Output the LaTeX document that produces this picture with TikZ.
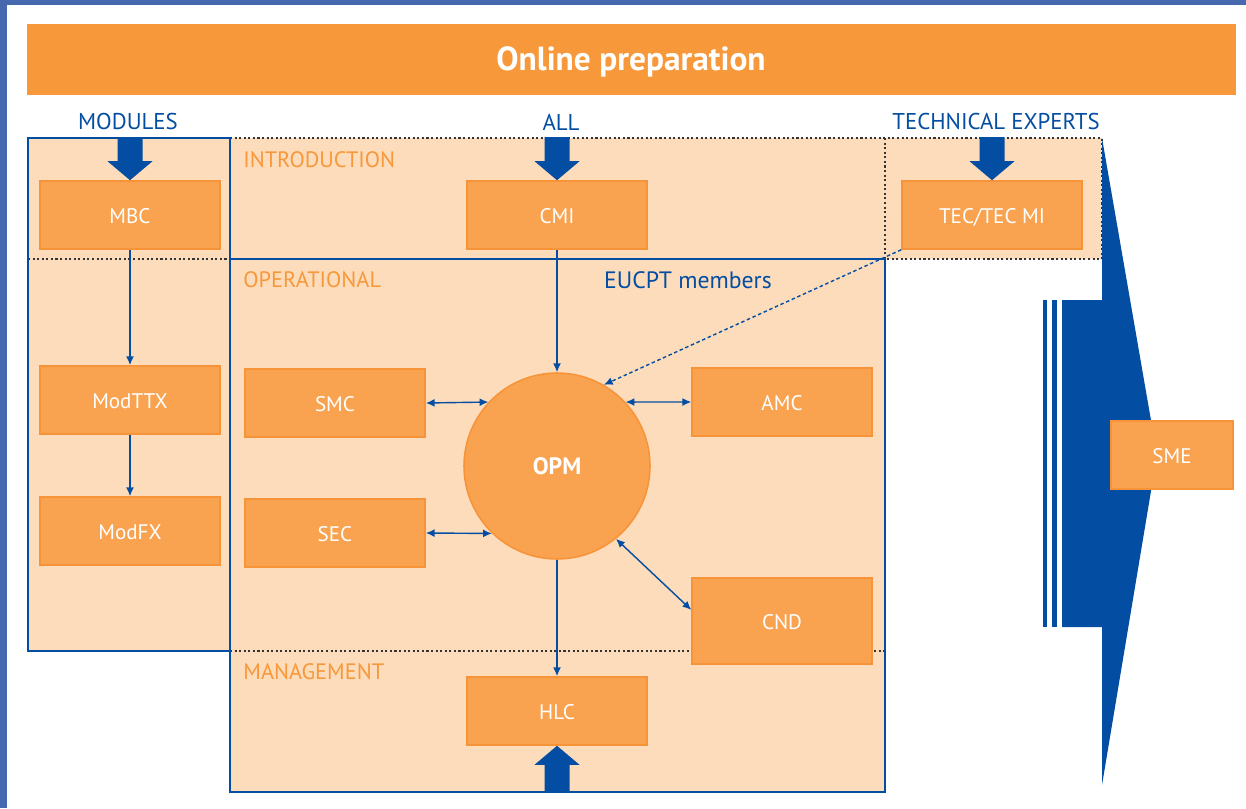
\documentclass[tikz,border=0pt]{standalone}
\usepackage{fontspec}
\setmainfont{PT Sans}
\usepackage{tikz}
\usetikzlibrary{calc,arrows.meta,positioning}
\usepackage{xcolor}
\definecolor{eublue}{RGB}{3,78,162}
\definecolor{frameblue}{RGB}{70,104,174}
\definecolor{banner}{RGB}{247,152,58}
\definecolor{peach}{RGB}{253,220,187}
\definecolor{boxfill}{RGB}{249,163,80}
\definecolor{boxline}{RGB}{247,148,58}

\begin{document}
\begin{tikzpicture}[x=0.02cm,y=-0.02cm,
	box/.style={draw=boxline,fill=boxfill,line width=0.9pt,minimum width=3.6cm,minimum height=1.36cm,text=white,text height=0.98em,text depth=0pt,font=\fontsize{12}{14}\selectfont},
	head/.style={text=eublue,inner sep=0pt,font=\fontsize{13}{15}\selectfont},
	lab/.style={text=banner,anchor=west,inner sep=0pt,font=\fontsize{12.7}{15}\selectfont},
	link/.style={eublue,line width=0.8pt,-{Latex[length=5pt,width=4.5pt]}},
	both/.style={link,{Latex[length=5pt,width=4.5pt]}-{Latex[length=5pt,width=4.5pt]}},
	sep/.style={line width=0.6pt,black!80,dash pattern=on 1.2pt off 1.4pt}]
		\useasboundingbox (0,0) rectangle (1246,808);
		\fill[white] (0,0) rectangle (1246,808);
		\fill[frameblue] (0,0) rectangle (7,808);
		\fill[frameblue] (0,0) rectangle (1246,5);
		
		\fill[banner] (27,24) rectangle (1236,95);
		\node[text=white,font=\fontsize{19}{22}\selectfont\bfseries] (title) at (631,62) {Online preparation};
		
		\node[head] (modules) at (128,122) {MODULES};
		\node[head] (all) at (561,122) {ALL};
		\node[head] (experts) at (996,122) {TECHNICAL EXPERTS};
		
		% areas
		\fill[peach] (28,138) -- (1102,138) -- (1102,259) -- (885,259) -- (885,792) -- (230,792) -- (230,651) -- (28,651) -- cycle;
		\draw[sep] (230,138) -- (1102,138) -- (1102,259) -- (885,259);
		\draw[sep] (885,138) -- (885,259);
		\draw[sep] (28,259) -- (230,259);
		\draw[sep] (230,651) -- (885,651);
		\draw[eublue,line width=1pt] (28,138) rectangle (230,651);
		\draw[eublue,line width=1pt] (230,259) rectangle (885,792);
		
		\node[lab] (intro) at (243,160) {INTRODUCTION};
		\node[lab] (oper) at (243,280) {OPERATIONAL};
		\node[lab] (manag) at (243,672) {MANAGEMENT};
		\node[head,font=\fontsize{13.5}{15}\selectfont] (members) at (688,280) {EUCPT members};
		
		% SME arrow
		\fill[eublue] (1102,138) -- (1157,455) -- (1102,785) -- (1102,627) -- (1062,627) -- (1062,300) -- (1102,300) -- cycle;
		\foreach \x/\w in {1043/4,1052/5}
		\fill[eublue] (\x,300) rectangle ++(\w,327);
		
		\node[box] (mbc) at (130,215) {MBC};
		\node[box] (cmi) at (557,215) {CMI};
		\node[box] (tec) at (992,215) {TEC/TEC MI};
		\node[box] (modttx) at (130,400) {ModTTX};
		\node[box] (modfx) at (130,531) {ModFX};
		\node[box] (smc) at (335,403) {SMC};
		\node[box] (sec) at (335,533) {SEC};
		\node[box] (amc) at (782,402) {AMC};
		\node[box,minimum height=1.72cm] (cnd) at (782,621) {CND};
		\node[box] (hlc) at (557,711) {HLC};
		\node[box,minimum width=2.44cm] (sme) at (1172,455) {SME};
		\node[circle,draw=boxline,fill=boxfill,line width=0.9pt,minimum size=3.72cm,text=white,font=\fontsize{13.5}{15}\selectfont\bfseries] (opm) at (557,466) {OPM};
		
		\foreach \n in {mbc,cmi,tec}
		\fill[eublue] (\n.north) -- ++(-22.5,-19) -- ++(10,0) -- ++(0,-24) -- ++(25,0) -- ++(0,24) -- ++(10,0) -- cycle;
		\fill[eublue] (hlc.south) -- ++(-22.5,19) -- ++(10,0) -- ++(0,28) -- ++(25,0) -- ++(0,-28) -- ++(10,0) -- cycle;
		
		\draw[link] (mbc) -- (modttx);
		\draw[link] (modttx) -- (modfx);
		\draw[link] (cmi) -- (opm);
		\draw[link] (opm) -- (hlc);
		\draw[both] (smc.east) -- (opm.137);
		\draw[both] (sec.east) -- (opm.226);
		\draw[both] (opm.43) -- (amc.west);
		\draw[both] (opm.-51) -- (cnd.173);
		\draw[link,dash pattern=on 2pt off 1.5pt] (tec.south west) -- (opm.60);
	\end{tikzpicture}
\end{document}
